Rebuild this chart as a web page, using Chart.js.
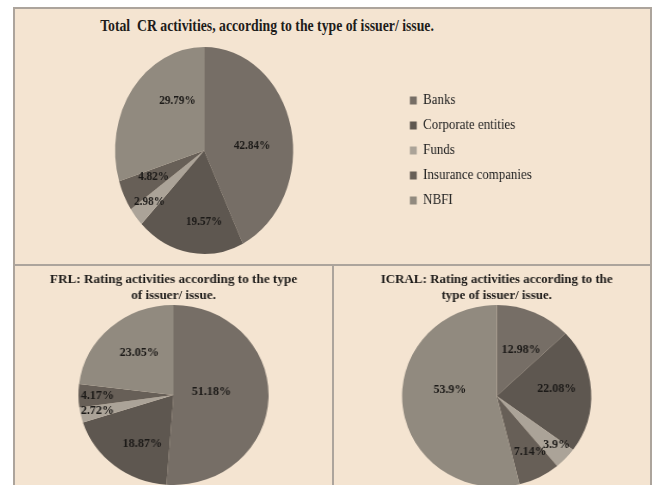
<!DOCTYPE html>
<html>
<head>
<meta charset="utf-8">
<script src="https://cdn.jsdelivr.net/npm/chart.js@4.4.0/dist/chart.umd.min.js"></script>
<style>
  body { margin: 0; background: #fff; }
  #page { position: relative; width: 653px; height: 485px; overflow: hidden; }
  .panel { position: absolute; background: #f4e4d1; border: 2px solid #aca49c; box-sizing: border-box; }
  canvas { position: absolute; }
  #mainTitle {
    position: absolute; left: 0; top: 15px; width: 534px; line-height: 22px;
    text-align: center; white-space: pre; color: #1e1c1a;
    font: bold 17.5px "Liberation Serif", serif;
    transform: scaleX(0.785); transform-origin: 267px 0;
  }
</style>
</head>
<body>
<div id="page">
  <div class="panel" style="left:13px; top:7px; width:639px; height:260px;"></div>
  <div class="panel" style="left:13px; top:264px; width:322px; height:240px;"></div>
  <div class="panel" style="left:332px; top:264px; width:320px; height:240px;"></div>
  <div id="mainTitle">Total  CR activities, according to the type of issuer/ issue.</div>
  <canvas id="totalChart" width="744" height="255" style="left:7px; top:9px; width:640px; height:255px;"></canvas>
  <canvas id="frlChart" width="300" height="219" style="left:15px; top:266px; width:317px; height:219px;"></canvas>
  <canvas id="icralChart" width="304" height="221" style="left:334px; top:266px; width:316px; height:221px;"></canvas>
</div>
<script>
// issuer types, same order in all three pies
const issuerTypes = ['Banks', 'Corporate entities', 'Funds', 'Insurance companies', 'NBFI'];

// share of rating activities, %
const totalShares = [42.84, 19.57, 2.98, 4.82, 29.79];
const frlShares = [51.18, 18.87, 2.72, 4.17, 23.05];
const icralShares = [12.98, 22.08, 3.9, 7.14, 53.9];

const frlTitle = ['FRL: Rating activities according to the type', 'of issuer/ issue.'];
const icralTitle = ['ICRAL: Rating activities according to the', 'type of issuer/ issue.'];

const sliceColors = ['#766e66', '#5e5750', '#aba398', '#675f57', '#918a7f'];

// draws the percentage inside each slice
// turn = degrees moved from the slice middle, radius = fraction of pie radius
const sliceLabels = {
  id: 'sliceLabels',
  afterDatasetsDraw(chart, args, opts) {
    const ctx = chart.ctx;
    const values = chart.data.datasets[0].data;
    ctx.save();
    ctx.font = 'bold ' + opts.size + 'px "Liberation Serif", serif';
    ctx.fillStyle = '#1c1a18';
    ctx.textAlign = 'center';
    ctx.textBaseline = 'middle';
    chart.getDatasetMeta(0).data.forEach((arc, i) => {
      const p = arc.getProps(['x', 'y', 'startAngle', 'endAngle', 'outerRadius']);
      const a = (p.startAngle + p.endAngle) / 2 + opts.turn[i] * Math.PI / 180;
      const r = p.outerRadius * opts.radius[i];
      ctx.fillText(values[i] + '%', p.x + Math.cos(a) * r, p.y + Math.sin(a) * r);
    });
    ctx.restore();
  }
};

function pieChart(id, shares, extra) {
  return new Chart(document.getElementById(id), {
    type: 'pie',
    data: {
      labels: issuerTypes,
      datasets: [{
        data: shares,
        backgroundColor: sliceColors,
        borderWidth: 0
      }]
    },
    options: Object.assign({
      responsive: false,
      animation: false,
      events: []
    }, extra),
    plugins: [sliceLabels]
  });
}

pieChart('totalChart', totalShares, {
  layout: { padding: { top: 38, bottom: 10, left: 0, right: 124 } },
  plugins: {
    tooltip: { enabled: false },
    legend: {
      position: 'right',
      labels: {
        boxWidth: 8,
        boxHeight: 8,
        padding: 10,
        color: '#222',
        font: { family: 'Liberation Serif', size: 15 }
      }
    },
    sliceLabels: { size: 13, turn: [8, -9.5, 1, 2, 22], radius: [0.54, 0.69, 0.79, 0.62, 0.57] }
  }
});

const smallTitle = {
  display: true,
  color: '#1e1c1a',
  font: { family: 'Liberation Serif', size: 12.5, weight: 'bold', lineHeight: 1.28 },
  padding: { top: 6, bottom: 1 }
};

pieChart('frlChart', frlShares, {
  plugins: {
    tooltip: { enabled: false },
    legend: { display: false },
    title: Object.assign({ text: frlTitle }, smallTitle),
    sliceLabels: { size: 11.5, turn: [-7, -7.5, 0, 0, 4], radius: [0.4, 0.64, 0.82, 0.8, 0.59] }
  }
});

pieChart('icralChart', icralShares, {
  layout: { padding: { left: 9 } },
  plugins: {
    tooltip: { enabled: false },
    legend: { display: false },
    title: Object.assign({ text: icralTitle }, smallTitle),
    sliceLabels: { size: 11.5, turn: [3.6, -3.5, -3, -3, 15], radius: [0.57, 0.64, 0.83, 0.71, 0.5] }
  }
});
</script>
</body>
</html>
